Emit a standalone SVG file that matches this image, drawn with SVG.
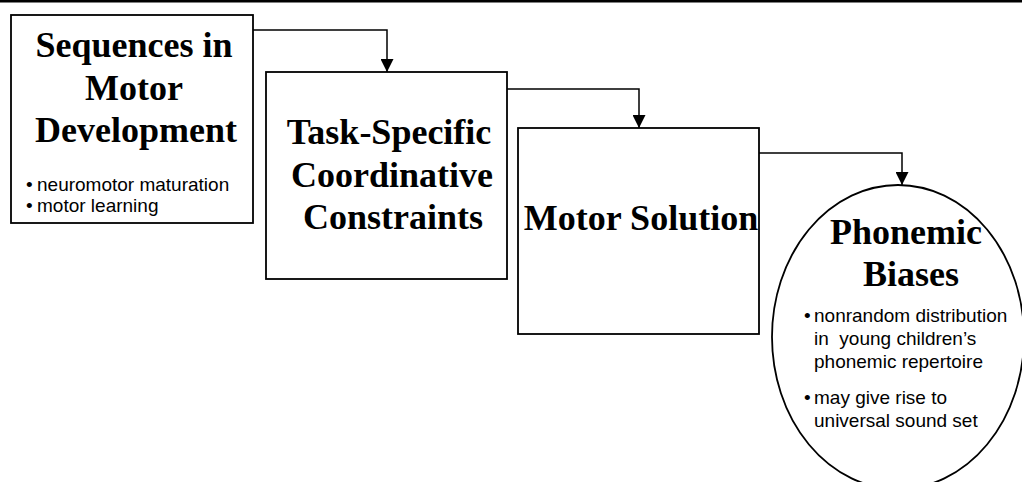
<svg xmlns="http://www.w3.org/2000/svg" width="1022" height="482" viewBox="0 0 1022 482">
<style>
.box{fill:#fff;stroke:#000;stroke-width:1.8}
.title{font-family:"Liberation Serif","Times New Roman",serif;font-weight:bold;font-size:36px;fill:#000;text-anchor:middle}
.bul{font-family:"Liberation Sans",Arial,sans-serif;font-size:19px;fill:#000}
.conn{fill:none;stroke:#000;stroke-width:1.5}
</style>
<defs>
<marker id="arr" viewBox="0 0 10 10" refX="10" refY="5" markerWidth="13" markerHeight="13" markerUnits="userSpaceOnUse" orient="auto">
<path d="M0,0 L10,5 L0,10 Z" fill="#000"/>
</marker>
</defs>
<rect x="0" y="0" width="1022" height="2.5" fill="#000"/>
<g id="connectors">
<path class="conn" d="M253,30 H387 V72" marker-end="url(#arr)"/>
<path class="conn" d="M507,89 H639 V128" marker-end="url(#arr)"/>
<path class="conn" d="M759,153 H902 V185" marker-end="url(#arr)"/>
</g>
<g id="node-sequences">
<rect class="box" x="11" y="15" width="242" height="208"/>
<text class="title" x="134" y="57">Sequences in</text>
<text class="title" x="134" y="100">Motor</text>
<text class="title" x="136" y="142">Development</text>
<text class="bul" y="191"><tspan x="26">•</tspan><tspan x="37">neuromotor maturation</tspan></text>
<text class="bul" y="212"><tspan x="26">•</tspan><tspan x="37">motor learning</tspan></text>
</g>
<g id="node-task">
<rect class="box" x="266" y="72" width="241" height="207"/>
<text class="title" x="389" y="144">Task-Specific</text>
<text class="title" x="392" y="187">Coordinative</text>
<text class="title" x="393" y="229">Constraints</text>
</g>
<g id="node-motor-solution">
<rect class="box" x="518" y="128" width="241" height="206"/>
<text class="title" x="641" y="230">Motor Solution</text>
</g>
<g id="node-phonemic">
<ellipse cx="898" cy="337" rx="126" ry="152" fill="#fff" stroke="#000" stroke-width="1.8"/>
<text class="title" x="906" y="244">Phonemic</text>
<text class="title" x="911" y="286">Biases</text>
<text class="bul" y="322"><tspan x="804">•</tspan><tspan x="814">nonrandom distribution</tspan></text>
<text class="bul" x="814" y="345" xml:space="preserve">in  young children’s</text>
<text class="bul" x="814" y="368">phonemic repertoire</text>
<text class="bul" y="404"><tspan x="804">•</tspan><tspan x="814">may give rise to</tspan></text>
<text class="bul" x="814" y="427">universal sound set</text>
</g>
</svg>
